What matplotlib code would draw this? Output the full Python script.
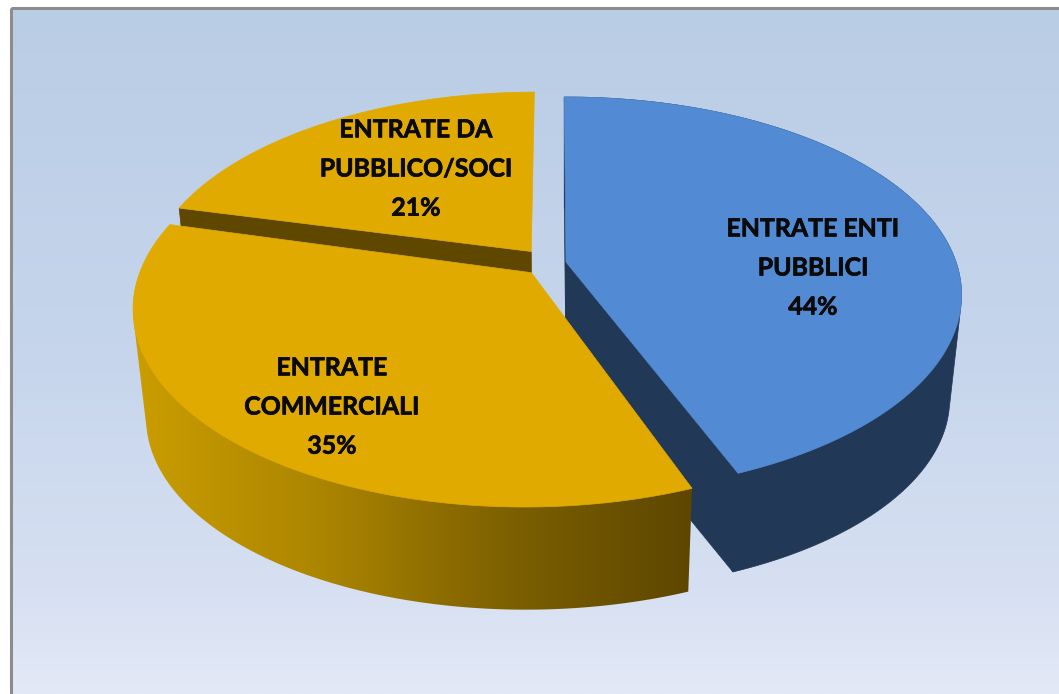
import numpy as np
import matplotlib
matplotlib.use('Agg')
import matplotlib.pyplot as plt
import matplotlib.patheffects as pe
from matplotlib.colors import LinearSegmentedColormap
from matplotlib.patches import Polygon, Rectangle

# slices, clockwise from the top of the pie
categories = ['ENTRATE ENTI\nPUBBLICI', 'ENTRATE\nCOMMERCIALI', 'ENTRATE DA\nPUBBLICO/SOCI']
shares = [44, 35, 21]

# pie geometry in pixels
cx, cy = 566, 262
rx, ry = 390, 192.5
persp = 0.1667
shrink = 0.97
start = -0.3

top_blue = '#528ad4'
wall_blue = '#223857'
top_gold = '#e0aa00'
wall_brown = '#5f4700'

wall_cmap = LinearSegmentedColormap.from_list('wall', ['#cc9e00', '#ad8600', '#7d6000', '#5c4500'])


# disk point -> picture, top face of the pie
def project(theta, du, dv, r):
    t = np.radians(theta)
    u = r*np.sin(t) + du
    v = r*np.cos(t) + dv
    w = 1 + persp*v
    return rx*u/w, -ry*v/w


def top_xy(theta, du, dv, r=1.0):
    x, y = project(theta, du, dv, r)
    return cx + x, cy + y


def low_xy(theta, du, dv, depth, r=1.0):
    x, y = project(theta, du, dv, r)
    return cx + shrink*x, cy + shrink*y + depth


def draw_top(ax, a, b, du, dv, color, z=3, r=1.0):
    th = np.linspace(a, b, 200)
    x, y = top_xy(th, du, dv, r)
    x0, y0 = top_xy(a, du, dv, 0)
    pts = np.vstack([[x0, y0], np.column_stack([x, y])])
    ax.add_patch(Polygon(pts, closed=True, fc=color, ec=color, lw=0.5, zorder=z))


def draw_face(ax, theta, du, dv, depth, color, r=1.0):
    x0, y0 = top_xy(theta, du, dv, 0)
    x1, y1 = top_xy(theta, du, dv, r)
    x2, y2 = low_xy(theta, du, dv, depth, r)
    x3, y3 = low_xy(theta, du, dv, depth, 0)
    ax.add_patch(Polygon([[x0, y0], [x1, y1], [x2, y2], [x3, y3]], closed=True,
                         fc=color, ec=color, lw=0.5, zorder=2))


# convex hull, the swept wall of a slice under 180 degrees is convex
def hull(pts):
    pts = sorted(map(tuple, pts))
    def half(seq):
        out = []
        for p in seq:
            while len(out) > 1 and np.cross(np.subtract(out[-1], out[-2]), np.subtract(p, out[-1])) <= 0:
                out.pop()
            out.append(p)
        return out[:-1]
    return np.array(half(pts) + half(pts[::-1]))


def wall_outline(a, b, du, dv, depth, r=1.0):
    th = np.linspace(a, b, 240)
    xt, yt = top_xy(th, du, dv, r)
    xl, yl = low_xy(th, du, dv, depth, r)
    return hull(np.vstack([np.column_stack([xt, yt]), np.column_stack([xl, yl])]))


fig = plt.figure(figsize=(10.59, 6.94), dpi=100)
ax = fig.add_axes([0, 0, 1, 1])
ax.axis('off')

# background panel
bg = LinearSegmentedColormap.from_list('bg', [(0, '#b9cde5'), (0.5, '#c6d5ec'), (0.85, '#d7e0f2'), (1, '#e3e9f6')])
grad = np.linspace(0, 1, 256).reshape(-1, 1)
ax.imshow(grad, cmap=bg, extent=(11, 1059, 694, 8), aspect='auto', zorder=0)
ax.add_patch(Rectangle((11, 8), 1100, 800, fc='none', ec='#8c8c8c', lw=2.2, zorder=1))

# slice angles come from the shares
edges = start + np.cumsum([0] + shares) * 3.6
a_blue, b_blue = edges[0], edges[1]
a_com, b_com = edges[1] + 0.8, edges[2] + 0.8
a_soc, b_soc = edges[2], edges[3]

# gold slice at the back
draw_face(ax, a_soc, -0.09, 0.055, 110, wall_brown, r=0.98)
draw_top(ax, a_soc, b_soc, -0.09, 0.055, top_gold, r=0.98)

# blue slice
ax.add_patch(Polygon(wall_outline(a_blue, b_blue, 0, 0, 105), closed=True, fc=wall_blue, ec=wall_blue, lw=0.5, zorder=2))
draw_face(ax, a_blue, 0, 0, 105, wall_blue)
draw_face(ax, b_blue, 0, 0, 105, wall_blue)
draw_top(ax, a_blue, b_blue, 0, 0, top_blue)

# big gold slice goes over the other two, wall is a gradient clipped to its outline
outline = Polygon(wall_outline(a_com, b_com, -0.088, -0.055, 110, r=0.995), closed=True, fc='none', ec='none',
                  transform=ax.transData)
wall_im = ax.imshow(np.linspace(0, 1, 256).reshape(1, -1), cmap=wall_cmap, extent=(125, 700, 640, 280),
                    aspect='auto', zorder=4)
wall_im.set_clip_path(outline)
draw_top(ax, a_com, b_com, -0.088, -0.055, top_gold, z=5, r=0.995)

ax.set_xlim(0, 1059)
ax.set_ylim(694, 0)

# labels
font = dict(family='Lato', weight='bold', fontsize=17.9, color='#0a0a0a', ha='center', va='center',
            linespacing=1.85, zorder=8, path_effects=[pe.withStroke(linewidth=0.5, foreground='#0a0a0a')])
ax.text(813, 268, categories[0] + '\n%d%%' % shares[0], **font)
ax.text(332, 407, categories[1] + '\n%d%%' % shares[1], **font)
ax.text(416, 169, categories[2] + '\n%d%%' % shares[2], **font)

fig.savefig('out.png', dpi=100)
